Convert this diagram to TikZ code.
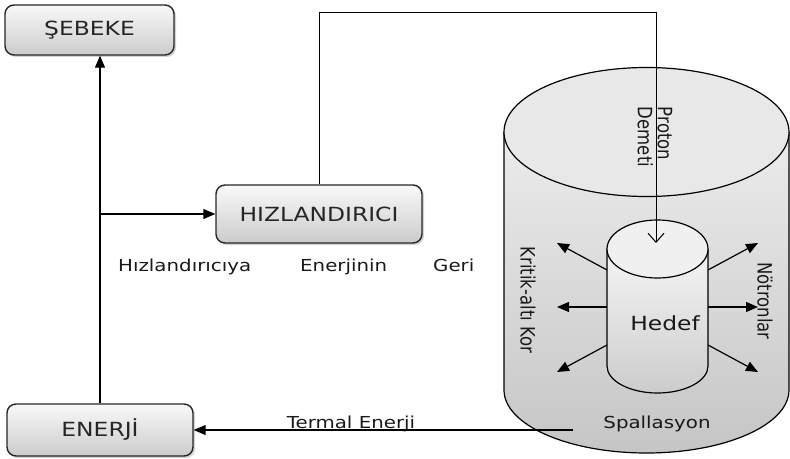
\documentclass[tikz,border=0pt]{standalone}
\usepackage{graphicx}
\usepackage{fontspec}
\setmainfont{DejaVu Sans}
\usetikzlibrary{arrows.meta, shadows}

\newcommand{\wide}[1]{\scalebox{1.2}[1]{#1}}
\newcommand{\tall}[1]{\scalebox{1}[1.2]{#1}}

\begin{document}
\begin{tikzpicture}[x=1pt, y=-1pt,
    box/.style={draw=black!85, line width=1.4pt, rounded corners=9pt,
      top color=gray!5, bottom color=gray!40,
      drop shadow={shadow xshift=2pt, shadow yshift=-2pt, opacity=0.35},
      text=black!85, font=\fontsize{19.5}{22}\selectfont},
    lbl/.style={inner sep=0pt, text=black!90, font=\fontsize{16.5}{20}\selectfont},
    arr/.style={line width=1.2pt, -{Triangle[length=12pt,width=10pt]}},
  ]
  \useasboundingbox (0,0) rectangle (790,458);

  % kor
  \shade[top color=gray!15, bottom color=gray!45] (504,132) -- (504,390)
    arc[start angle=180, end angle=0, x radius=142.5, y radius=63] -- (789,132) -- cycle;
  \draw[line width=1.2pt] (504,132) -- (504,390)
    arc[start angle=180, end angle=0, x radius=142.5, y radius=63] -- (789,132);
  \draw[line width=1.2pt, fill=gray!18] (646.5,132) ellipse[x radius=142.5, y radius=64.5];

  % hedef
  \shade[top color=gray!8, bottom color=gray!40] (607,249) -- (607,366)
    arc[start angle=180, end angle=0, x radius=50.5, y radius=27] -- (708,249) -- cycle;
  \draw[line width=1.2pt] (607,249) -- (607,366)
    arc[start angle=180, end angle=0, x radius=50.5, y radius=27] -- (708,249);
  \draw[line width=1.2pt, fill=gray!12] (657.5,249) ellipse[x radius=50.5, y radius=29];

  \foreach \ya/\yb in {270/243, 307/307, 345/372} {
    \draw[arr] (607,\ya) -- (557,\yb);
    \draw[arr] (708,\ya) -- (758,\yb);
  }

  \node[box, minimum width=169pt, minimum height=50pt] (sebeke) at (89.5,30) {\wide{ŞEBEKE}};
  \node[box, minimum width=206pt, minimum height=58pt] (hizlandirici) at (319,214) {\wide{HIZLANDIRICI}};
  \node[box, minimum width=186pt, minimum height=52pt] (enerji) at (100,430) {\wide{ENERJİ}};

  \node[lbl, anchor=base west] (geri1) at (118,271) {\wide{Hızlandırıcıya}};
  \node[lbl, anchor=base west] (geri2) at (300,271) {\wide{Enerjinin}};
  \node[lbl, anchor=base west] (geri3) at (433,271) {\wide{Geri}};
  \node[lbl, anchor=base] (termal) at (351,428) {\wide{Termal Enerji}};

  \node[lbl, rotate=-90, align=left] (proton) at (655,137) {\tall{Proton}\\\tall{Demeti}};
  \node[lbl, rotate=-90] (kritik) at (528,300) {\tall{Kritik-altı Kor}};
  \node[lbl, rotate=-90] (notron) at (765,301) {\tall{Nötronlar}};
  \node[lbl, anchor=base, font=\fontsize{19.5}{22}\selectfont] (hedef) at (665,330) {\wide{Hedef}};
  \node[lbl, anchor=base] (spallasyon) at (657,428) {\wide{Spallasyon}};

  \coordinate (kol) at (enerji.north |- hizlandirici.west);
  \coordinate (ust) at (656,12);
  \coordinate (hedefgiris) at (656,243);
  \coordinate (spall) at (573,430);

  \draw[arr] (enerji.north) -- (enerji.north |- sebeke.south);
  \draw[arr] (kol) -- (hizlandirici.west);
  \draw[line width=1pt, -{Straight Barb[length=9pt,width=16pt]}] (hizlandirici.north) |- (ust) -- (hedefgiris);
  \draw[arr] (spall) -- (enerji.east);
\end{tikzpicture}
\end{document}
